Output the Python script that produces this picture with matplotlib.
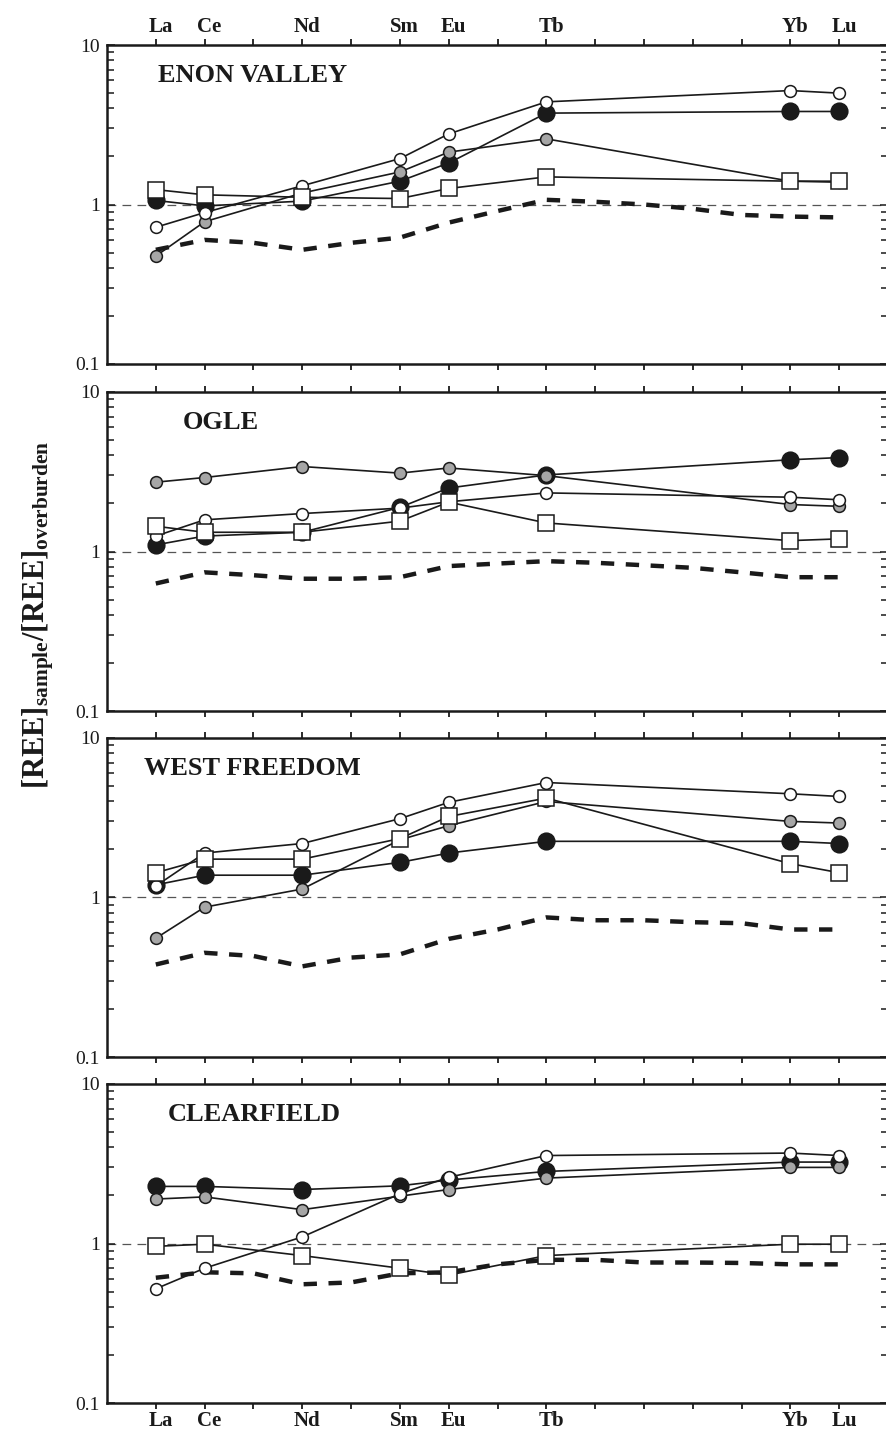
import numpy as np
import matplotlib
matplotlib.use("Agg")
import matplotlib.pyplot as plt
from matplotlib.ticker import FixedLocator, LogLocator, NullFormatter

plt.rcParams["font.family"] = ["Liberation Serif", "DejaVu Serif"]
plt.rcParams["mathtext.fontset"] = "custom"
plt.rcParams["mathtext.rm"] = "Liberation Serif"
plt.rcParams["mathtext.bf"] = "Liberation Serif:bold"

# REE plotted at their atomic numbers
elements = ["La", "Ce", "Nd", "Sm", "Eu", "Tb", "Yb", "Lu"]
z = [57, 58, 60, 62, 63, 65, 70, 71]
z_all = list(range(57, 72))  # La..Lu, for the dashed reference curve

sites = ["ENON VALLEY", "OGLE", "WEST FREEDOM", "CLEARFIELD"]

# --- ENON VALLEY
enon_black = [1.06, 0.98, 1.05, 1.40, 1.82, 3.74, 3.83, 3.83]
enon_grey = [0.475, 0.78, 1.18, 1.60, 2.13, 2.58, 1.40, 1.38]
enon_open = [0.72, 0.89, 1.31, 1.94, 2.77, 4.40, 5.18, 4.99]
enon_square = [1.24, 1.15, 1.11, 1.09, 1.26, 1.49, 1.40, 1.40]
enon_dash = [0.52, 0.60, 0.575, 0.52, 0.575, 0.62, 0.77, 0.91,
             1.07, 1.04, 1.0, 0.94, 0.86, 0.84, 0.83]

# --- OGLE
ogle_black = [1.10, 1.25, 1.32, 1.89, 2.50, 3.02, 3.76, 3.88]
ogle_grey = [2.72, 2.91, 3.41, 3.10, 3.34, 2.99, 1.97, 1.92]
ogle_open = [1.25, 1.58, 1.73, 1.87, 2.05, 2.33, 2.19, 2.11]
ogle_square = [1.44, 1.32, 1.32, 1.55, 2.04, 1.51, 1.17, 1.20]
ogle_dash = [0.63, 0.74, 0.71, 0.675, 0.675, 0.69, 0.81, 0.84,
             0.87, 0.85, 0.82, 0.79, 0.74, 0.69, 0.69]

# --- WEST FREEDOM
wf_black = [1.20, 1.38, 1.38, 1.66, 1.90, 2.25, 2.25, 2.18]
wf_grey = [0.555, 0.87, 1.13, 2.30, 2.82, 4.00, 3.00, 2.93]
wf_open = [1.18, 1.90, 2.18, 3.12, 3.95, 5.26, 4.47, 4.30]
wf_square = [1.43, 1.74, 1.74, 2.34, 3.22, 4.20, 1.63, 1.43]
wf_dash = [0.38, 0.45, 0.43, 0.37, 0.42, 0.44, 0.55, 0.63,
           0.75, 0.72, 0.72, 0.70, 0.69, 0.63, 0.63]

# --- CLEARFIELD
cf_black = [2.28, 2.28, 2.18, 2.30, 2.50, 2.83, 3.24, 3.24]
cf_grey = [1.90, 1.96, 1.63, 1.98, 2.18, 2.57, 3.00, 3.00]
cf_open = [0.52, 0.70, 1.10, 2.05, 2.60, 3.56, 3.69, 3.56]
cf_square = [0.96, 0.99, 0.84, 0.70, 0.634, 0.84, 0.99, 0.99]
cf_dash = [0.61, 0.66, 0.65, 0.555, 0.57, 0.65, 0.66, 0.74,
           0.79, 0.79, 0.76, 0.76, 0.755, 0.74, 0.74]

panels = [
    (enon_black, enon_grey, enon_open, enon_square, enon_dash),
    (ogle_black, ogle_grey, ogle_open, ogle_square, ogle_dash),
    (wf_black, wf_grey, wf_open, wf_square, wf_dash),
    (cf_black, cf_grey, cf_open, cf_square, cf_dash),
]
title_x = [0.065, 0.097, 0.048, 0.078]

W, H = 886, 1443
fig = plt.figure(figsize=(W / 100, H / 100), dpi=100)

tops = [45, 392, 738, 1084]
ph = 319
left_px, right_px = 107, 888

ink = "#1a1a1a"
for i, (blk, gry, opn, sq, dash) in enumerate(panels):
    ax = fig.add_axes([left_px / W, 1 - (tops[i] + ph) / H,
                       (right_px - left_px) / W, ph / H])
    ax.set_yscale("log")
    ax.set_xlim(56, 72)
    ax.set_ylim(0.1, 10)

    ax.axhline(1, color="#555555", lw=0.9, dashes=(7, 5), zorder=1)
    ax.plot(z_all, dash, color=ink, lw=3.2, dashes=(3.0, 2.6), zorder=2)

    kw = dict(color=ink, lw=1.2, markeredgecolor=ink, markeredgewidth=1.1)
    ax.plot(z, blk, marker="o", ms=12, markerfacecolor=ink, zorder=3, **kw)
    ax.plot(z, gry, marker="o", ms=8.5, markerfacecolor="#a6a6a6", zorder=4, **kw)
    ax.plot(z, opn, marker="o", ms=8.5, markerfacecolor="white", zorder=5, **kw)
    ax.plot(z, sq, marker="s", ms=12, markerfacecolor="white", zorder=6, **kw)

    ax.text(title_x[i], 0.905, sites[i], transform=ax.transAxes, ha="left",
            va="center", fontsize=19, fontweight="bold", color=ink)

    for s in ax.spines.values():
        s.set_linewidth(1.8)
        s.set_color(ink)

    ax.xaxis.set_major_locator(FixedLocator(z_all))
    ax.tick_params(axis="x", which="major", direction="out", length=4,
                   width=1.3, top=True, bottom=True, labeltop=False,
                   labelbottom=False, colors=ink)

    ax.yaxis.set_major_locator(FixedLocator([0.1, 1, 10]))
    ax.yaxis.set_minor_locator(LogLocator(base=10, subs=np.arange(2, 10)))
    ax.yaxis.set_minor_formatter(NullFormatter())
    ax.set_yticklabels(["0.1", "1", "10"])
    ax.tick_params(axis="y", which="both", direction="in", left=True,
                   right=True, width=1.1, labelsize=14, colors=ink, pad=5)
    ax.tick_params(axis="y", which="major", length=6)
    ax.tick_params(axis="y", which="minor", length=5)

    # element names above the first panel and below the last one
    if i == 0:
        for name, zz in zip(elements, z):
            ax.text(zz + 0.1, 10 * 1.12, name, ha="center", va="bottom",
                    fontsize=15, fontweight="bold", color=ink)
    if i == 3:
        for name, zz in zip(elements, z):
            ax.text(zz + 0.1, 0.1 / 1.12, name, ha="center", va="top",
                    fontsize=15, fontweight="bold", color=ink)

fig.text(38 / W, 1 - 615 / H,
         r"$\mathbf{[REE]_{sample}/[REE]_{overburden}}$",
         rotation=90, ha="center", va="center", fontsize=22, color=ink)

fig.savefig("out.png", dpi=100)
